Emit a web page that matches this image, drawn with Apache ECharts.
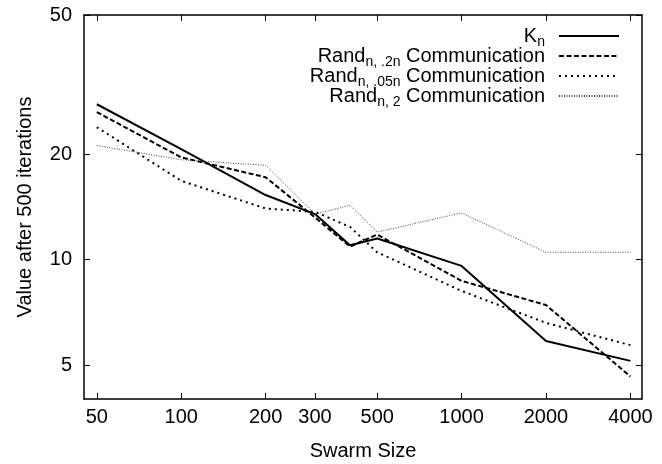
<!DOCTYPE html>
<html>
<head>
<meta charset="utf-8">
<script src="https://cdn.jsdelivr.net/npm/echarts@6/dist/echarts.min.js"></script>
<style>
  html, body { margin: 0; padding: 0; background: #fff; }
  #chart { width: 662px; height: 464px; }
</style>
</head>
<body>
<div id="chart"></div>
<script>
// Swarm sizes sampled on the x axis
const swarmSizes = [50, 100, 200, 300, 400, 500, 1000, 2000, 4000];

// Value after 500 iterations for each topology
const knValues      = [27.8, 20.7, 15.3, 13.5, 11.0, 11.5, 9.6, 5.86, 5.14];
const rand2nValues  = [26.4, 19.6, 17.2, 13.2, 10.9, 11.8, 8.7, 7.42, 4.64];
const rand05nValues = [23.9, 16.8, 14.0, 13.7, 12.4, 10.5, 8.14, 6.6, 5.7];
const randN2Values  = [21.2, 19.3, 18.6, 13.5, 14.3, 12.0, 13.6, 10.5, 10.5];

// Tick labels
const xTicks = [50, 100, 200, 300, 500, 1000, 2000, 4000];
const yTicks = [5, 10, 20, 50];

// Legend names: [base, subscript, suffix]
const legendParts = {
  'Kn':        ['K', 'n', ''],
  'Rand2n':    ['Rand', 'n, .2n', ' Communication'],
  'Rand05n':   ['Rand', 'n, .05n', ' Communication'],
  'RandN2':    ['Rand', 'n, 2', ' Communication']
};

const FONT = 'Liberation Sans, Arial, Helvetica, sans-serif';

function pairs(vals) {
  return swarmSizes.map((x, i) => [x, vals[i]]);
}

function makeSeries(name, vals, color, width, type) {
  return {
    name: name,
    type: 'line',
    data: pairs(vals),
    symbol: 'none',
    showSymbol: false,
    silent: true,
    animation: false,
    lineStyle: { color: color, width: width, type: type, cap: 'butt' },
    itemStyle: { color: color }
  };
}

const frame = { show: true, onZero: false, lineStyle: { color: '#000', width: 1.5 } };

const xCommon = {
  type: 'log',
  logBase: 10,
  min: 45,
  max: 4400,
  axisLine: frame,
  splitLine: { show: false },
  minorTick: { show: false },
  axisTick: { show: true, inside: true, length: 6, customValues: xTicks,
              lineStyle: { color: '#000', width: 1 } }
};

const yCommon = {
  type: 'log',
  logBase: 10,
  min: 4,
  max: 50,
  axisLine: frame,
  splitLine: { show: false },
  minorTick: { show: false },
  axisTick: { show: true, inside: true, length: 6, customValues: yTicks,
              lineStyle: { color: '#000', width: 1 } }
};

const chart = echarts.init(document.getElementById('chart'), null, { renderer: 'canvas' });

chart.setOption({
  backgroundColor: '#fff',
  animation: false,
  grid: { left: 84, right: 20, top: 15, bottom: 65, containLabel: false, outerBoundsMode: 'none' },
  xAxis: [
    Object.assign({}, xCommon, {
      position: 'bottom',
      name: 'Swarm Size',
      nameLocation: 'middle',
      nameGap: 42,
      nameTextStyle: { fontFamily: FONT, fontSize: 20, color: '#000' },
      axisLabel: { show: true, customValues: xTicks, margin: 8,
                   fontFamily: FONT, fontSize: 20, color: '#000',
                   formatter: v => String(Math.round(v)) }
    }),
    Object.assign({}, xCommon, {
      position: 'top',
      axisLabel: { show: false }
    })
  ],
  yAxis: [
    Object.assign({}, yCommon, {
      position: 'left',
      name: 'Value after 500 iterations',
      nameLocation: 'middle',
      nameGap: 49,
      nameTextStyle: { fontFamily: FONT, fontSize: 20, color: '#000' },
      axisLabel: { show: true, customValues: yTicks, margin: 12,
                   fontFamily: FONT, fontSize: 20, color: '#000',
                   formatter: v => String(Math.round(v)) }
    }),
    Object.assign({}, yCommon, {
      position: 'right',
      axisLabel: { show: false }
    })
  ],
  legend: {
    orient: 'vertical',
    right: 42,
    top: 26,
    align: 'right',
    itemGap: -3,
    itemWidth: 60,
    itemHeight: 14,
    padding: 0,
    selectedMode: false,
    // line-only keys, no marker in the middle
    itemStyle: { color: 'transparent', borderWidth: 0, opacity: 0 },
    data: ['Kn', 'Rand2n', 'Rand05n', 'RandN2'],
    formatter: function (name) {
      const p = legendParts[name];
      return '{b|' + p[0] + '}{s|' + p[1] + '}{b|' + p[2] + '}';
    },
    textStyle: {
      width: 250,
      align: 'right',
      padding: [0, 9, 0, 0],
      rich: {
        b: { fontFamily: FONT, fontSize: 20, color: '#000' },
        s: { fontFamily: FONT, fontSize: 14, color: '#000', padding: [12, 0, 0, 0] }
      }
    }
  },
  series: [
    makeSeries('Kn', knValues, '#000', 2, 'solid'),
    makeSeries('Rand2n', rand2nValues, '#000', 2, [5, 2.5]),
    makeSeries('Rand05n', rand05nValues, '#000', 2, [2, 4]),
    makeSeries('RandN2', randN2Values, '#444', 1, [1, 1.5])
  ]
});
</script>
</body>
</html>
